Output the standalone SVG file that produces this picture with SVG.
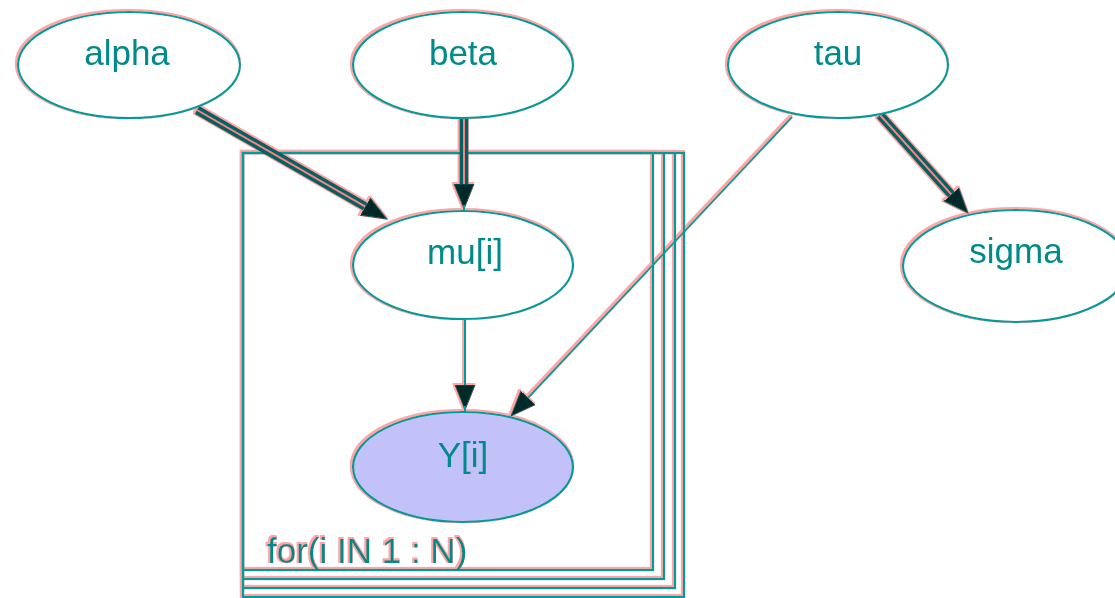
<svg xmlns="http://www.w3.org/2000/svg" width="1115" height="598" viewBox="0 0 1115 598">
  <style>
    .node ellipse { fill: #ffffff; stroke: #009c9c; stroke-width: 2.2; }
    .node.observed ellipse { fill: #c2c2f9; }
    .label { font-family: "Liberation Sans", Arial, sans-serif; font-size: 35px; fill: #008a8a; text-anchor: middle; }
    .plate rect, .plate path { fill: none; stroke: #009c9c; stroke-width: 2.2; }
    .plate-label { text-anchor: start; }
    .thick-outer { fill: none; stroke: #006262; stroke-width: 9; }
    .thick-inner { fill: none; stroke: #ff8080; stroke-width: 2; }
    .thin { fill: none; stroke: #009c9c; stroke-width: 2; }
  </style>
  <defs>
    <!-- coloured fringe offset up-left from every stroke and glyph -->
    <filter id="fringe" filterUnits="userSpaceOnUse" x="0" y="0" width="1115" height="598">
      <feOffset in="SourceAlpha" dx="-1.5" dy="-1" result="shift"/>
      <feMorphology in="shift" operator="dilate" radius="0.8" result="grow"/>
      <feFlood flood-color="#ff8f8f" flood-opacity="0.8"/>
      <feComposite in2="grow" operator="in" result="pink"/>
      <feMerge>
        <feMergeNode in="pink"/>
        <feMergeNode in="SourceGraphic"/>
      </feMerge>
    </filter>
    <marker id="head" markerUnits="userSpaceOnUse" markerWidth="26" markerHeight="22" refX="0" refY="11" orient="auto" viewBox="0 0 26 22">
      <path d="M0,1 L25,11 L0,21 Z" fill="#002c2c" stroke="#006060" stroke-width="1"/>
    </marker>
  </defs>

  <rect width="1115" height="598" fill="#ffffff"/>

  <g filter="url(#fringe)">
    <!-- stacked plate for the loop over i -->
    <g id="plate" class="plate">
      <path d="M243,598 L243,153 L685,153"/>
      <rect x="243" y="153" width="441" height="444"/>
      <rect x="243" y="153" width="432" height="435"/>
      <rect x="243" y="153" width="421" height="426"/>
      <rect x="243" y="153" width="410" height="417"/>
      <text class="label plate-label" x="267" y="563">for(i IN 1 : N)</text>
    </g>

    <!-- connectors -->
    <g id="edges">
      <!-- alpha -> mu[i] (double) -->
      <path class="thick-outer" d="M197,110 L365.3,206.6"/>
      <path class="thick-inner" d="M197,110 L365.3,206.6" marker-end="url(#head)"/>
      <!-- beta -> mu[i] (double) -->
      <path class="thick-outer" d="M464,118 L464,184"/>
      <path class="thick-inner" d="M464,118 L464,184" marker-end="url(#head)"/>
      <path class="thin" d="M464,205 L464,212"/>
      <!-- mu[i] -> Y[i] -->
      <path class="thin" d="M465,320 L465,385" marker-end="url(#head)"/>
      <path class="thin" d="M465,406 L465,412"/>
      <!-- tau -> Y[i] -->
      <path class="thin" d="M792,117 L528.1,397.8" stroke-width="1.6" marker-end="url(#head)"/>
      <!-- tau -> sigma (double) -->
      <path class="thick-outer" d="M880,115 L951.3,194.4"/>
      <path class="thick-inner" d="M880,115 L951.3,194.4" marker-end="url(#head)"/>
    </g>

    <!-- nodes -->
    <g id="alpha" class="node">
      <ellipse cx="129" cy="65" rx="111" ry="53"/>
      <text class="label" x="127" y="65">alpha</text>
    </g>
    <g id="beta" class="node">
      <ellipse cx="463" cy="65" rx="110" ry="53"/>
      <text class="label" x="463" y="65">beta</text>
    </g>
    <g id="tau" class="node">
      <ellipse cx="838" cy="65" rx="110" ry="53"/>
      <text class="label" x="838" y="65">tau</text>
    </g>
    <g id="mu" class="node">
      <ellipse cx="463" cy="265" rx="110" ry="54"/>
      <text class="label" x="465" y="264">mu[i]</text>
    </g>
    <g id="sigma" class="node">
      <ellipse cx="1016" cy="266" rx="113" ry="56"/>
      <text class="label" x="1016" y="263">sigma</text>
    </g>
    <g id="Y" class="node observed">
      <ellipse cx="463" cy="467" rx="110" ry="55"/>
      <text class="label" x="463" y="467">Y[i]</text>
    </g>
  </g>
</svg>
